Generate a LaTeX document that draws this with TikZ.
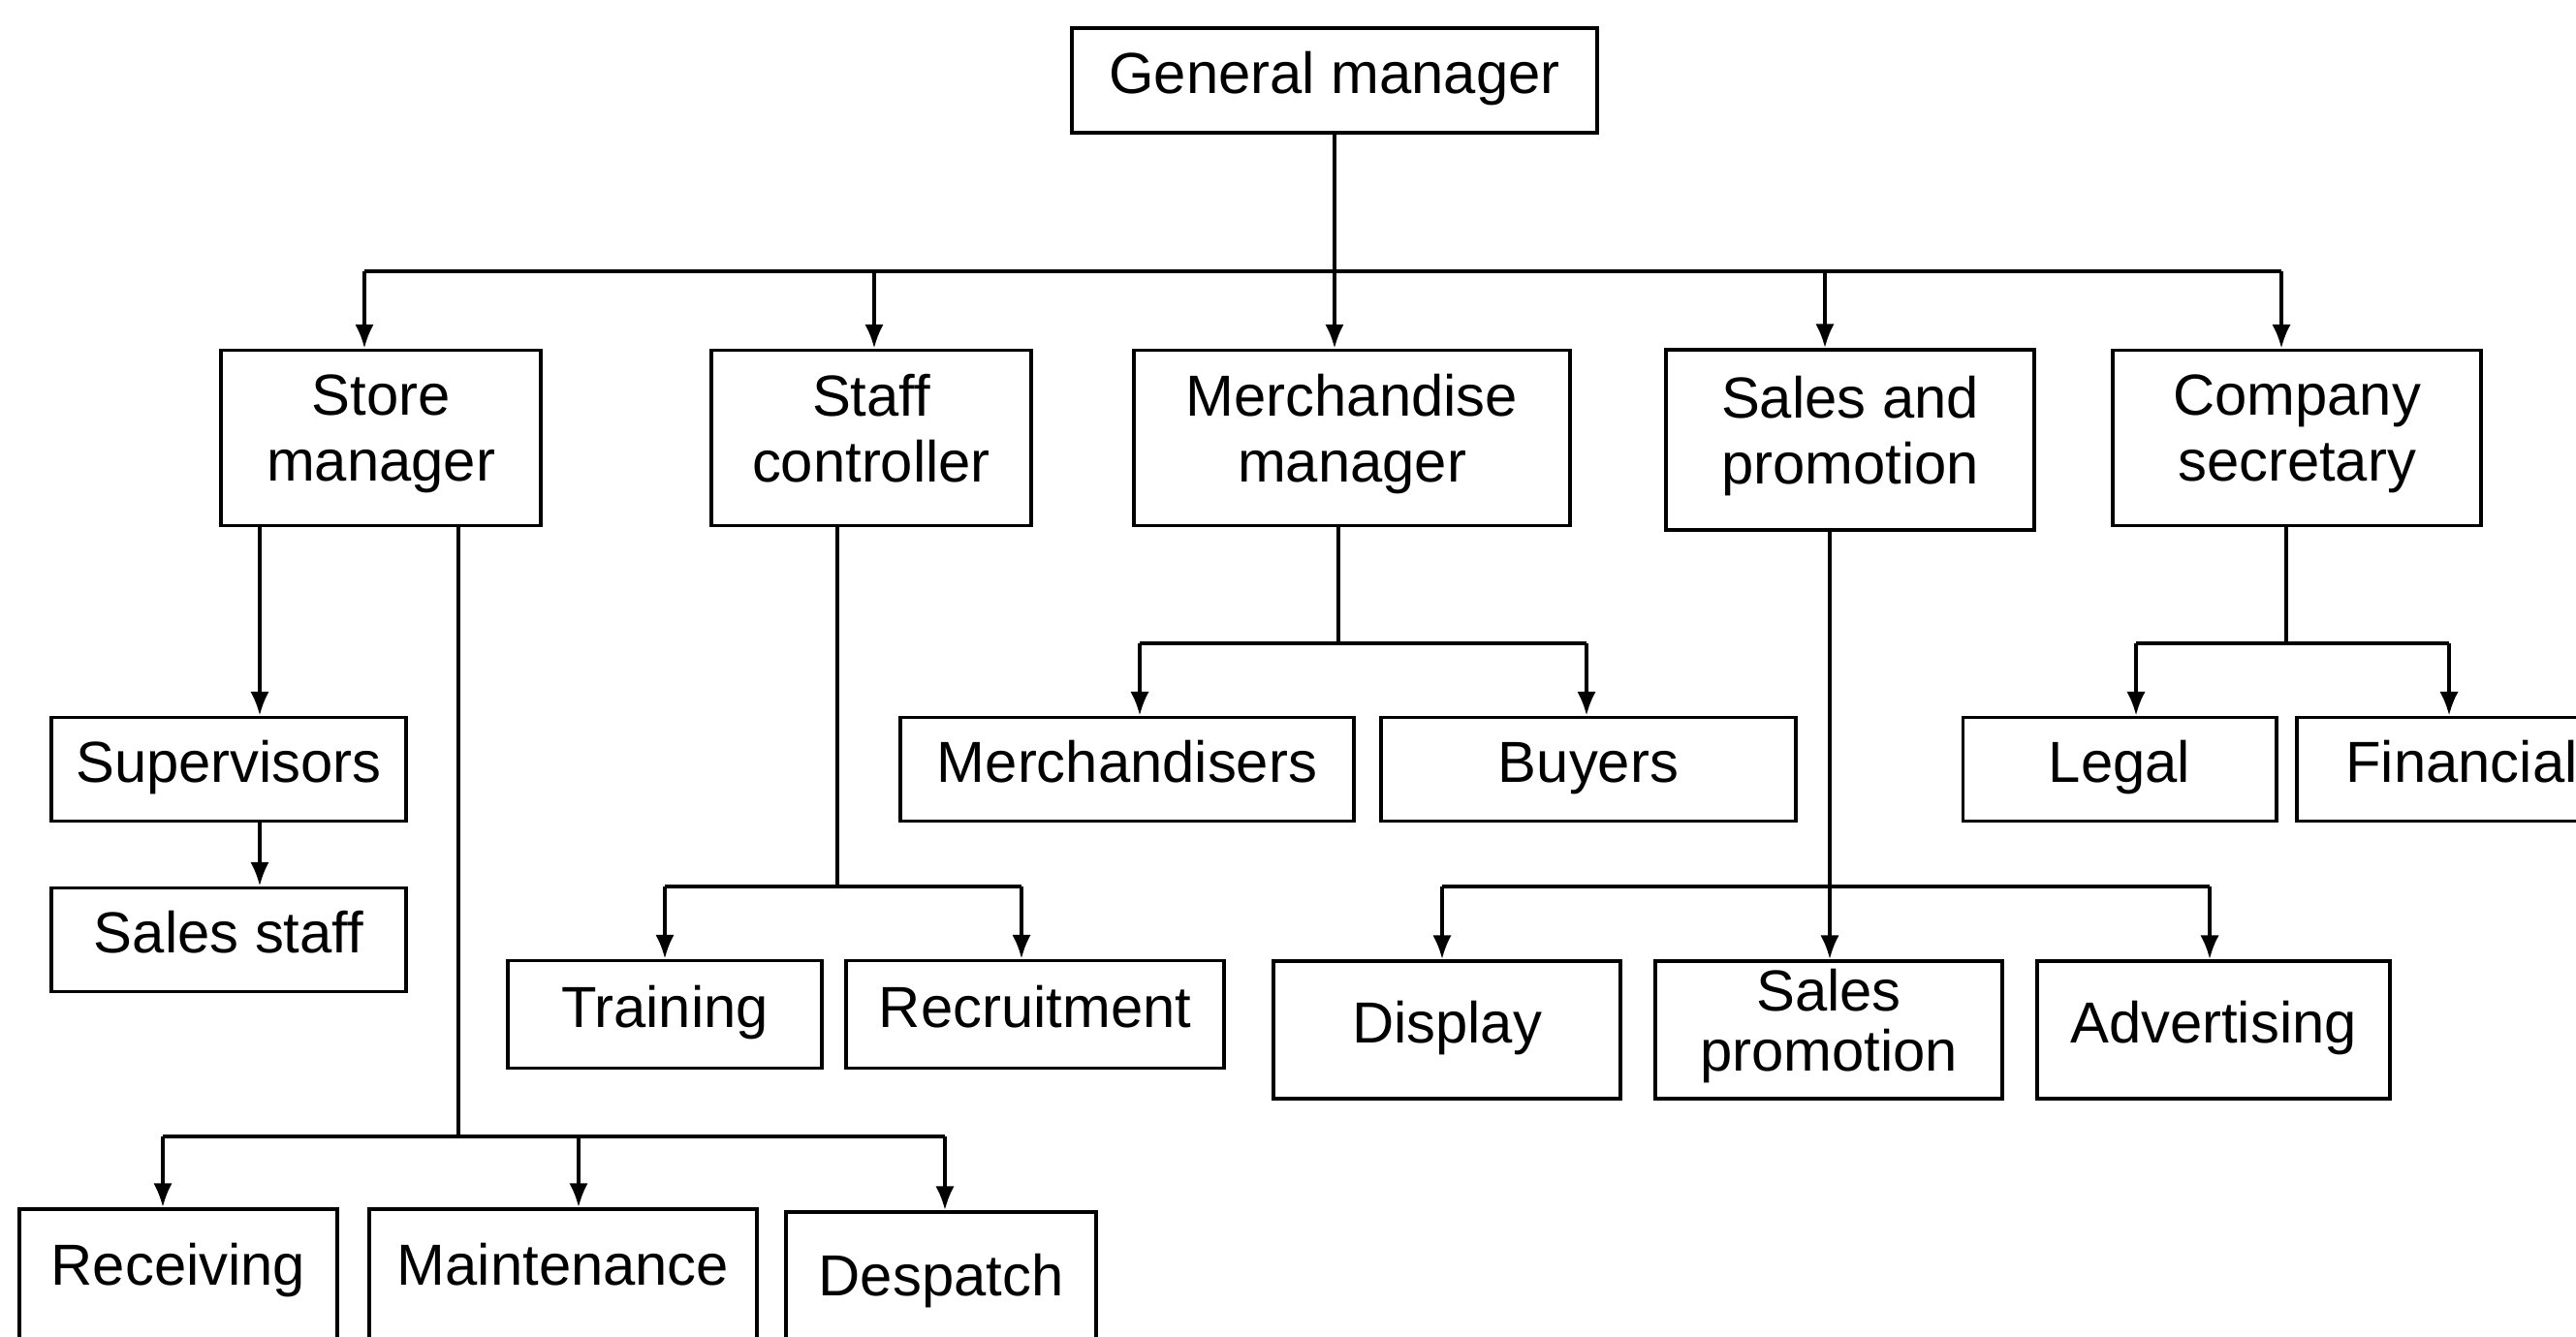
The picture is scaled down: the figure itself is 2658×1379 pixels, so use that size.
\documentclass[tikz,border=0pt]{standalone}
\usepackage{fontspec}
\setmainfont{Liberation Sans}
\usetikzlibrary{arrows.meta,calc}
\tikzstyle{box}=[draw,line width=1.1pt,align=center,inner sep=0pt,font=\fontsize{17}{19.5}\selectfont,execute at begin node=\strut,execute at end node=\strut]
\tikzstyle{cutbox}=[box,anchor=north,text height=0.79cm,text depth=0.9cm]
\tikzstyle{link}=[line width=1pt]
\tikzstyle{arr}=[link,-{Latex[length=7pt,width=5.5pt]}]

\begin{document}
\begin{tikzpicture}[x=0.01cm,y=-0.01cm]
\useasboundingbox (0,0) rectangle (2658,1379);
\clip (0,0) rectangle (2658,1379);
% boxes
\node[box,minimum width=5.41cm,minimum height=1.08cm] at (1377,83) (GM) {General manager};
\node[box,minimum width=3.29cm,minimum height=1.81cm] at (393,452) (Store) {Store\\manager};
\node[box,minimum width=3.30cm,minimum height=1.81cm] at (899,452) (Staff) {Staff\\controller};
\node[box,minimum width=4.50cm,minimum height=1.81cm] at (1395,452) (Merch) {Merchandise\\manager};
\node[box,minimum width=3.79cm,minimum height=1.86cm] at (1909,454) (Sales) {Sales and\\promotion};
\node[box,minimum width=3.79cm,minimum height=1.81cm] at (2370,452) (Company) {Company\\secretary};
\node[box,minimum width=3.65cm,minimum height=1.07cm] at (236,794) (Sup) {Supervisors};
\node[box,minimum width=3.65cm,minimum height=1.07cm] at (236,970) (SalesStaff) {Sales staff};
\node[box,minimum width=4.68cm,minimum height=1.07cm] at (1163,794) (Merchs) {Merchandisers};
\node[box,minimum width=4.28cm,minimum height=1.07cm] at (1639,794) (Buyers) {Buyers};
\node[box,minimum width=3.23cm,minimum height=1.07cm] at (2187,794) (Legal) {Legal};
\node[box,minimum width=3.40cm,minimum height=1.07cm] at (2540,794) (Fin) {Financial};
\node[box,minimum width=3.24cm,minimum height=1.11cm] at (686,1047) (Train) {Training};
\node[box,minimum width=3.90cm,minimum height=1.11cm] at (1068,1047) (Recruit) {Recruitment};
\node[box,minimum width=3.57cm,minimum height=1.42cm] at (1493,1063) (Display) {Display};
\node[box,minimum width=3.57cm,minimum height=1.42cm] at (1887,1063) (SalesProm) {Sales\\[-2pt]promotion};
\node[box,minimum width=3.64cm,minimum height=1.42cm] at (2284,1063) (Advert) {Advertising};
\node[cutbox,minimum width=3.27cm] at (184,1246) (Rec) {Receiving};
\node[cutbox,minimum width=4.00cm] at (581,1246) (Maint) {Maintenance};
\node[cutbox,minimum width=3.19cm,text height=0.86cm] at (971,1249) (Desp) {Despatch};
% junctions
\coordinate (T1) at (376,280);
\coordinate (T2) at (902,280);
\coordinate (T4) at (1883,280);
\coordinate (T5) at (2354,280);
\coordinate (S1) at (268,542);
\coordinate (S2) at (473,1173);
\coordinate (R1) at (168,1173);
\coordinate (R2) at (597,1173);
\coordinate (R3) at (975,1173);
\coordinate (C0) at (864,915);
\coordinate (C1) at (686,915);
\coordinate (C2) at (1054,915);
\coordinate (M0) at (1381,664);
\coordinate (M1) at (1176,664);
\coordinate (M2) at (1637,664);
\coordinate (P0) at (1888,915);
\coordinate (P1) at (1488,915);
\coordinate (P2) at (2280,915);
\coordinate (K0) at (2359,664);
\coordinate (K1) at (2204,664);
\coordinate (K2) at (2527,664);
% general manager
\draw[link] (T1) -- (T5);
\draw[arr] (GM) -- (GM |- Merch.north);
\draw[arr] (T1) -- (T1 |- Store.north);
\draw[arr] (T2) -- (T2 |- Staff.north);
\draw[arr] (T4) -- (T4 |- Sales.north);
\draw[arr] (T5) -- (T5 |- Company.north);
% store manager
\draw[arr] (S1) -- (S1 |- Sup.north);
\draw[arr] (S1 |- Sup.south) -- (S1 |- SalesStaff.north);
\draw[link] (Store.south -| S2) -- (S2);
\draw[link] (R1) -- (R3);
\draw[arr] (R1) -- (R1 |- Rec.north);
\draw[arr] (R2) -- (R2 |- Maint.north);
\draw[arr] (R3) -- (R3 |- Desp.north);
% staff controller
\draw[link] (Staff.south -| C0) -- (C0);
\draw[link] (C1) -- (C2);
\draw[arr] (C1) -- (C1 |- Train.north);
\draw[arr] (C2) -- (C2 |- Recruit.north);
% merchandise manager
\draw[link] (Merch.south -| M0) -- (M0);
\draw[link] (M1) -- (M2);
\draw[arr] (M1) -- (M1 |- Merchs.north);
\draw[arr] (M2) -- (M2 |- Buyers.north);
% sales and promotion
\draw[arr] (Sales.south -| P0) -- (P0 |- SalesProm.north);
\draw[link] (P1) -- (P2);
\draw[arr] (P1) -- (P1 |- Display.north);
\draw[arr] (P2) -- (P2 |- Advert.north);
% company secretary
\draw[link] (Company.south -| K0) -- (K0);
\draw[link] (K1) -- (K2);
\draw[arr] (K1) -- (K1 |- Legal.north);
\draw[arr] (K2) -- (K2 |- Fin.north);
\end{tikzpicture}
\end{document}
